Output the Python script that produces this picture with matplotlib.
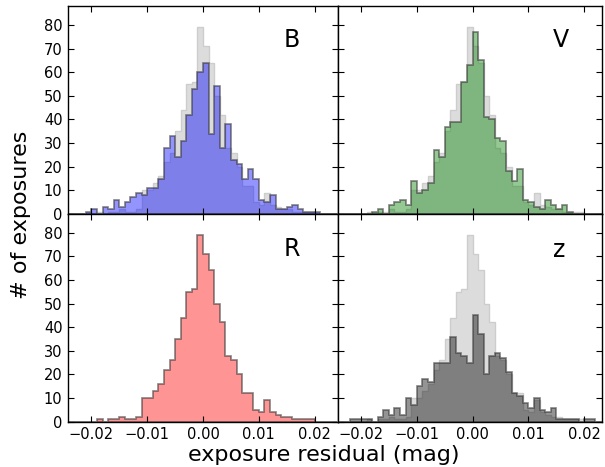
import numpy as np
import matplotlib
matplotlib.use('Agg')
import matplotlib.pyplot as plt

# bin edges: 0.001 mag wide, from -0.024 to 0.024
bin_width = 0.001
edges = np.arange(-24, 25) * bin_width
centers = edges[:-1] + bin_width / 2

# counts per bin (bins k = -24 ... 23)
counts_B = [0, 0, 0, 1, 2, 0, 3, 2, 6, 3, 5, 7, 9,
            8, 11, 11, 15, 28, 33, 24, 31, 42, 53, 60,
            64, 34, 54, 28, 38, 23, 21, 15, 19, 15, 6, 5, 8, 2, 2, 3, 4, 2, 1, 1,
            1, 0, 0, 0]
counts_V = [0, 0, 0, 0, 0, 0, 1, 2, 0, 4, 5, 6, 4,
            14, 9, 10, 13, 27, 24, 37, 39, 39, 56, 63,
            77, 65, 41, 40, 32, 31, 18, 14, 19, 6, 5, 3, 2, 6, 4, 2, 4, 1,
            0, 0, 0, 0, 0, 0]
counts_R = [0, 0, 0, 0, 0, 1, 0, 1, 1, 2, 1, 1, 2,
            10, 10, 13, 16, 22, 26, 35, 44, 55, 56, 79,
            71, 64, 50, 42, 28, 26, 20, 12, 12, 5, 4, 9, 4, 3, 2, 2, 1, 1, 1, 1,
            0, 0, 0, 0]
counts_z = [0, 0, 1, 1, 1, 1, 0, 2, 5, 3, 6, 3, 10,
            7, 15, 18, 17, 25, 25, 25, 36, 29, 28, 25,
            45, 37, 20, 28, 29, 27, 21, 12, 11, 8, 6, 10, 5, 4, 6, 1, 1, 1, 1, 0, 1, 1,
            0, 0]

bands = ['B', 'V', 'R', 'z']
band_counts = [counts_B, counts_V, counts_R, counts_z]
band_colors = ['b', 'g', 'r', 'k']

xticks = [-0.02, -0.01, 0.0, 0.01, 0.02]
yticks = [0, 10, 20, 30, 40, 50, 60, 70, 80]

fig = plt.figure(figsize=(6.05, 4.67), dpi=100)
W, H = 605.0, 467.0
# panel boxes in pixels: (left, bottom, width, height)
boxes = [(68, 253, 269.5, 208), (337.5, 253, 264, 208),
         (68, 45.3, 269.5, 208), (337.5, 45.3, 264, 208)]
xlims = [(-0.0242, 0.0241), (-0.0242, 0.0231), (-0.0242, 0.0241), (-0.0242, 0.0231)]
label_pos = [(292, 40), (561, 40), (292, 249), (559, 250)]

for i in range(4):
    l, b, w, h = boxes[i]
    ax = fig.add_axes([l / W, b / H, w / W, h / H])

    # the R distribution is shown in light grey behind the other bands
    if bands[i] != 'R':
        ax.hist(centers, bins=edges, weights=counts_R, histtype='stepfilled',
                facecolor='#dcdcdc', edgecolor='#cdcdcd', linewidth=1.0)

    ax.hist(centers, bins=edges, weights=band_counts[i], histtype='stepfilled',
            facecolor=matplotlib.colors.to_rgba(band_colors[i], 0.42),
            edgecolor=(0.2, 0.2, 0.2, 0.6), linewidth=1.2)

    ax.set_xlim(xlims[i])
    ax.set_ylim(0, 88)
    ax.set_xticks(xticks)
    ax.set_yticks(yticks)
    ax.tick_params(direction='in', top=True, right=True, length=4.5, width=0.8,
                   labelsize=10.5, colors='black', pad=4)
    if i % 2 == 1:
        ax.set_yticklabels([])
    if i < 2:
        ax.set_xticklabels([])
    else:
        ax.set_xticklabels(['\u22120.02', '\u22120.01', '0.00', '0.01', '0.02'])
    for sp in ax.spines.values():
        sp.set_linewidth(1.0)

    lx, ly = label_pos[i]
    ax.text((lx - l) / w, (H - ly - b) / h, bands[i], transform=ax.transAxes,
            fontsize=17, ha='center', va='center')

fig.text(0.034, 0.54, '# of exposures', rotation=90, fontsize=16,
         ha='center', va='center')
fig.text(0.535, 0.026, 'exposure residual (mag)', fontsize=16,
         ha='center', va='center')

fig.savefig('out.png', dpi=100)
